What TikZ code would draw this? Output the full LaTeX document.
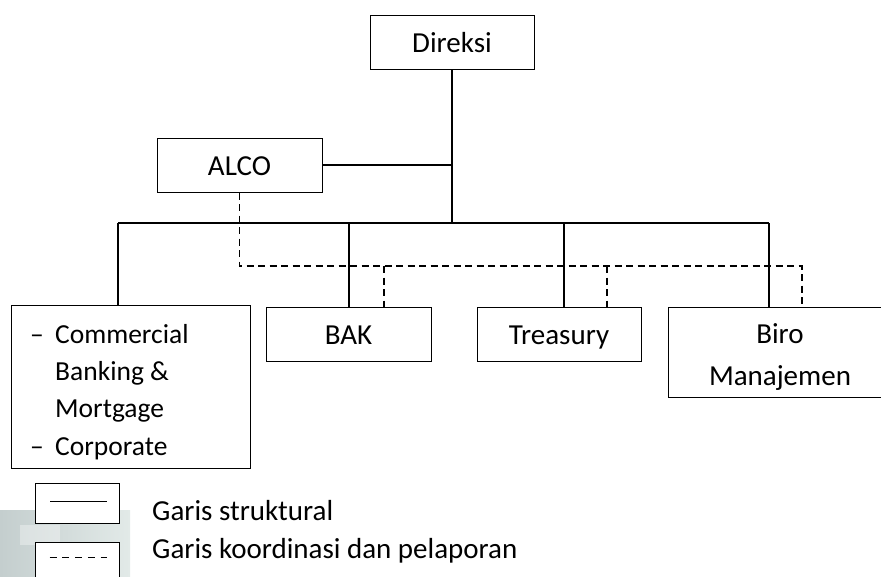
\documentclass[tikz,border=0pt]{standalone}
\usepackage{fontspec}
\setmainfont{Carlito}
\definecolor{patchA}{RGB}{196,206,206}
\definecolor{patchB}{RGB}{226,234,232}
\begin{document}
\begin{tikzpicture}[x=1pt,y=-1pt,
  txt/.style={font=\fontsize{29}{34}\selectfont,inner sep=0pt},
  listtxt/.style={font=\fontsize{27.5}{34}\selectfont,inner sep=0pt},
  box/.style={draw,line width=1pt,fill=white,inner sep=0pt,
    font=\fontsize{29}{34}\selectfont,text height=20pt,text depth=0pt},
  struct/.style={line width=1.4pt},
  coord/.style={line width=1.4pt,dash pattern=on 7pt off 4.5pt},
  keybox/.style={draw,line width=1pt,fill=white,inner sep=0pt,minimum width=84pt}]
\useasboundingbox (0,0) rectangle (881,576);

% faded backdrop behind the key
\shade[left color=patchA,right color=patchB] (0,510) rectangle (130,576);
\fill[white,opacity=0.35] (20,525) rectangle (60,545);
\fill[patchA,opacity=0.4] (70,560) rectangle (110,576);

% units
\node[box,minimum width=164pt,minimum height=54pt] (direksi) at (452,42) {Direksi};
\node[box,minimum width=165pt,minimum height=54pt] (alco) at (239.5,165) {ALCO};
\node[box,minimum width=239pt,minimum height=163pt] (cbm) at (130.5,386.5) {};
\node[box,minimum width=165pt,minimum height=54pt] (bak) at (348.5,334) {BAK};
\node[box,minimum width=164pt,minimum height=54pt] (treasury) at (559,334) {Treasury};
\node[box,minimum width=226pt,minimum height=90pt] (biro) at (781,352) {};

% text inside the multi-line boxes
\node[listtxt,anchor=base west] (c1) at (30,343) {–};
\node[listtxt,anchor=base west] (c2) at (55,343) {Commercial};
\node[listtxt,anchor=base west] (c3) at (55,380) {Banking \&};
\node[listtxt,anchor=base west] (c4) at (55,417) {Mortgage};
\node[listtxt,anchor=base west] (c5) at (30,455) {–};
\node[listtxt,anchor=base west] (c6) at (55,455) {Corporate};
\node[txt,anchor=base] (b1) at (780,343) {Biro};
\node[txt,anchor=base] (b2) at (780,385) {Manajemen};

% junctions of the structural lines
\coordinate (hub) at (452,223);
\coordinate (alcoj) at (direksi.south |- alco.east);
\coordinate (busL) at (118,223);
\coordinate (busR) at (769,223);
\coordinate (bakt) at (349,223);
\coordinate (trt) at (564,223);

% structural lines
\draw[struct] (direksi.south) -- (hub);
\draw[struct] (alco.east) -- (alcoj);
\draw[struct] (busL) -- (busR);
\draw[struct] (busL) -- (busL |- cbm.north);
\draw[struct] (bakt) -- (bakt |- bak.north);
\draw[struct] (trt) -- (trt |- treasury.north);
\draw[struct] (busR) -- (busR |- biro.north);

% coordination and reporting lines
\coordinate (dL) at (alco.south |- 0,266);
\coordinate (dR) at (802,266);
\coordinate (bakd) at (384,266);
\coordinate (trd) at (607,266);
\draw[coord] (alco.south) -- (dL) -- (dR) -- (dR |- biro.north);
\draw[coord] (bakd) -- (bakd |- bak.north);
\draw[coord] (trd) -- (trd |- treasury.north);

% key
\node[keybox,minimum height=40pt] (k1) at (77,503) {};
\node[keybox,minimum height=48pt] (k2) at (77,566) {};
\coordinate (k1a) at (50,501);
\coordinate (k1b) at (107,501);
\coordinate (k2a) at (49.5,557);
\coordinate (k2b) at (107,557);
\draw[line width=1pt] (k1a) -- (k1b);
\draw[line width=1pt,dash pattern=on 7pt off 5.75pt] (k2a) -- (k2b);
\node[txt,anchor=base west] (t1) at (152,520) {Garis struktural};
\node[txt,anchor=base west] (t2) at (152,558) {Garis koordinasi dan pelaporan};
\end{tikzpicture}
\end{document}
